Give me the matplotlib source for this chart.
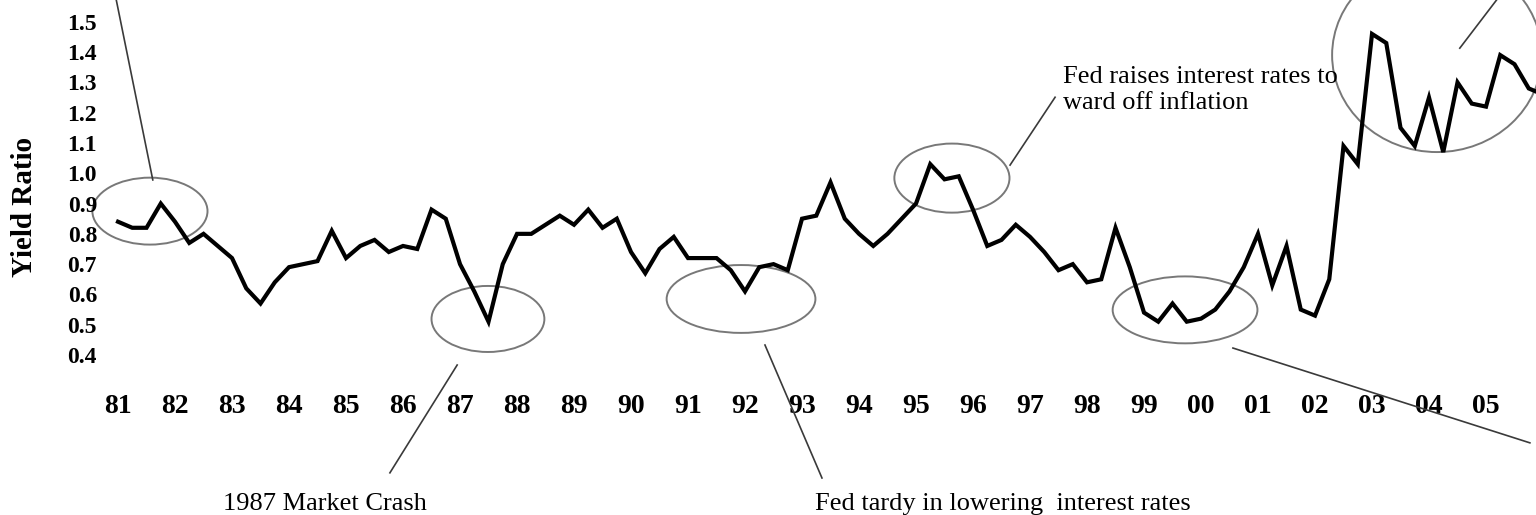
import numpy as np
import matplotlib
matplotlib.use('Agg')
import matplotlib.pyplot as plt
from matplotlib.patches import Ellipse

plt.rcParams['font.family'] = ['Liberation Serif', 'DejaVu Serif']

# quarterly yield ratio, 1981 Q1 onward
ratio = [0.84, 0.82, 0.82, 0.90, 0.84, 0.77, 0.80, 0.76, 0.72, 0.62,
         0.57, 0.64, 0.69, 0.70, 0.71, 0.81, 0.72, 0.76, 0.78, 0.74,
         0.76, 0.75, 0.88, 0.85, 0.70, 0.61, 0.51, 0.70, 0.80, 0.80,
         0.83, 0.86, 0.83, 0.88, 0.82, 0.85, 0.74, 0.67, 0.75, 0.79,
         0.72, 0.72, 0.72, 0.68, 0.61, 0.69, 0.70, 0.68, 0.85, 0.86,
         0.97, 0.85, 0.80, 0.76, 0.80, 0.85, 0.90, 1.03, 0.98, 0.99,
         0.88, 0.76, 0.78, 0.83, 0.79, 0.74, 0.68, 0.70, 0.64, 0.65,
         0.82, 0.69, 0.54, 0.51, 0.57, 0.51, 0.52, 0.55, 0.61, 0.69,
         0.80, 0.63, 0.76, 0.55, 0.53, 0.65, 1.09, 1.03, 1.46, 1.43,
         1.15, 1.09, 1.25, 1.07, 1.30, 1.23, 1.22, 1.39, 1.36, 1.28,
         1.26]
quarters = 81 + np.arange(len(ratio)) / 4.0

years = list(range(81, 106))
year_labels = ['%02d' % (y % 100) for y in years]
ratio_ticks = [0.4, 0.5, 0.6, 0.7, 0.8, 0.9, 1.0, 1.1, 1.2, 1.3, 1.4, 1.5]

# circled periods: (centre year, centre ratio, width, height)
circles = [(81.56, 0.875, 2.02, 0.221),
           (87.49, 0.519, 1.98, 0.218),
           (91.93, 0.585, 2.61, 0.224),
           (95.63, 0.984, 2.02, 0.228),
           (99.72, 0.549, 2.54, 0.221),
           (104.14, 1.39, 3.68, 0.64)]
# pointer lines from circles to notes
pointers = [((81.61, 0.978), (80.95, 1.59)),
            ((86.95, 0.367), (85.77, 0.011)),
            ((92.35, 0.433), (93.35, -0.006)),
            ((96.65, 1.027), (97.44, 1.251)),
            ((100.56, 0.423), (105.77, 0.110)),
            ((104.54, 1.413), (105.25, 1.588))]

fig = plt.figure(figsize=(15.36, 5.15), dpi=100)
W, H = 1536.0, 515.0
ax = fig.add_axes([104 / W, (H - 375) / H, (1536 - 104) / W, 375 / H])

ax.plot(quarters, ratio, color='black', lw=3.0, solid_joinstyle='miter')

ax.set_xlim(80.754, 105.877)
ax.set_ylim(0.334, 1.572)
ax.set_xticks(years)
ax.set_xticklabels(year_labels, fontsize=20, fontweight='bold')
ax.set_yticks(ratio_ticks)
ax.set_yticklabels(['%.1f' % v for v in ratio_ticks], fontsize=17, fontweight='bold')
ax.tick_params(axis='x', length=0, pad=14)
ax.tick_params(axis='y', length=0, pad=5)
for s in ax.spines.values():
    s.set_visible(False)

fig.text(25 / W, 1 - 207 / H, 'Yield Ratio', rotation=90, fontsize=21,
         fontweight='bold', ha='center', va='center')

for cx, cy, w, h in circles:
    ax.add_patch(Ellipse((cx, cy), w, h, fill=False, edgecolor='#787878',
                         lw=1.4, clip_on=False))
for (x0, y0), (x1, y1) in pointers:
    ax.plot([x0, x1], [y0, y1], color='#3a3a3a', lw=1.2, clip_on=False)

ax.text(97.58, 1.354, 'Fed raises interest rates to\nward off inflation',
        fontsize=19, va='top', ha='left', linespacing=1.25)
ax.text(84.63, -0.112, '1987 Market Crash', fontsize=19, ha='center', va='baseline')
ax.text(93.23, -0.112, 'Fed tardy in lowering  interest rates', fontsize=19,
        ha='left', va='baseline')

fig.savefig('out.png', dpi=100)
